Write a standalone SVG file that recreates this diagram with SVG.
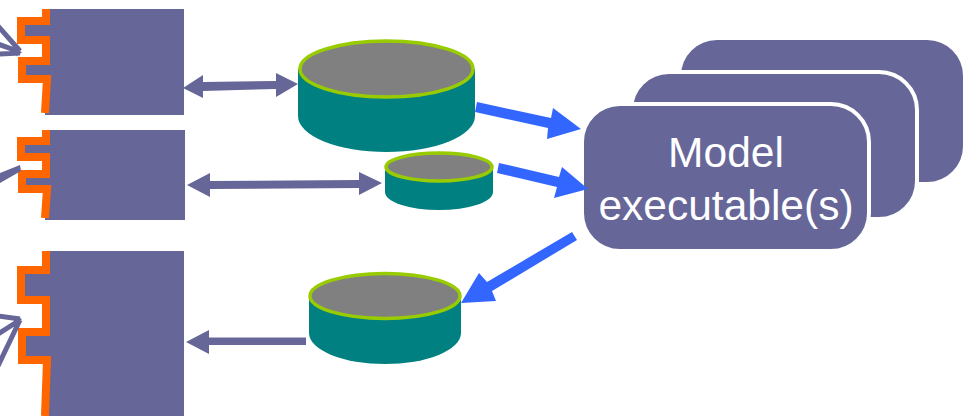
<svg xmlns="http://www.w3.org/2000/svg" width="968" height="416" viewBox="0 0 968 416">
<style>
.p{fill:#666699}
.o{fill:none;stroke:#FF6600;stroke-width:8;stroke-linejoin:miter}
.card{fill:#666699;stroke:#fff;stroke-width:4}
.body{fill:#008080}
.top{fill:#808080;stroke:#99CC00;stroke-width:3.500}
.blue{fill:#3366FF}
.fan{stroke:#666699;stroke-width:5;fill:none}
.t{font-family:"Liberation Sans",Arial,sans-serif;font-size:42.500px;fill:#fff;text-anchor:middle}
</style>
<rect width="968" height="416" fill="#fff"/>
<g id="block1">
<rect class="p" x="45" y="9" width="139" height="106"/>
<rect class="p" x="24" y="24" width="26" height="13"/>
<rect class="p" x="25" y="64" width="26" height="12"/>
<path class="o" d="M46,9V21H21V40H46V61H22V79H47L45,113"/>
</g>
<g id="block2">
<rect class="p" x="45" y="130" width="140" height="90"/>
<rect class="p" x="24" y="145" width="26" height="12"/>
<rect class="p" x="25" y="178" width="26" height="8"/>
<path class="o" d="M46,130V141H21V157H46V174H22V189H47L45,218"/>
</g>
<g id="block3">
<rect class="p" x="45" y="251" width="139" height="165"/>
<rect class="p" x="24" y="273" width="26" height="24"/>
<rect class="p" x="25" y="335" width="26" height="22"/>
<path class="o" d="M46,251V270H21V300H46V332H22V360H47L45,416"/>
</g>
<g id="store1">
<path class="body" d="M298,69V116A88.500,36 0 0 0 475,116V69Z"/>
<ellipse class="top" cx="386.500" cy="69" rx="86.500" ry="28"/>
</g>
<g id="store2">
<path class="body" d="M385,167V192A54,18 0 0 0 493,192V167Z"/>
<ellipse class="top" cx="439" cy="167" rx="53" ry="14"/>
</g>
<g id="store3">
<path class="body" d="M309,296V333A76,31 0 0 0 461,333V296Z"/>
<ellipse class="top" cx="385" cy="296" rx="75" ry="22.500"/>
</g>
<g id="executables">
<rect x="679" y="38" width="286" height="146" rx="38" class="card"/>
<rect x="631" y="72" width="286" height="147" rx="38" class="card"/>
<rect x="582" y="104" width="287" height="147" rx="38" class="card"/>
<text class="t" x="726" y="167">Model</text>
<text class="t" x="726" y="220">executable(s)</text>
</g>
<g id="connectors">
<path class="fan" d="M-2,26L20,51M-2,44L20,52M-2,54L20,53"/>
<polygon class="p" points="22,52.500 16,48 16,56"/>
<polygon class="p" points="20,165 21,171 0,183 0,173"/>
<path class="fan" d="M-2,316L20,319M-2,334L20,320M-2,366L20,320"/>
<polygon class="p" points="22,319 15,316 16,325"/>
<polygon class="p" points="183,88 203,75 203,82 276,81 276,73 298,84 276,97 276,89 203,91 203,98"/>
<polygon class="p" points="187,185 210,173 210,181 359,180 359,172 382,183 359,195 359,188 210,189 210,197"/>
<polygon class="p" points="186,342 209,330 209,337.500 306,337.500 306,345 209,345 209,354"/>
<polygon class="blue" points="477,102 551,118 553,108 581,129 547,139 548,128 475,112"/>
<polygon class="blue" points="499,163 559,177 562,167 588,189 554,198 557,187 497,173"/>
<polygon class="blue" points="572,232 577,240 492,291 496,301 461,303 479,273 487,282"/>
</g>
</svg>
